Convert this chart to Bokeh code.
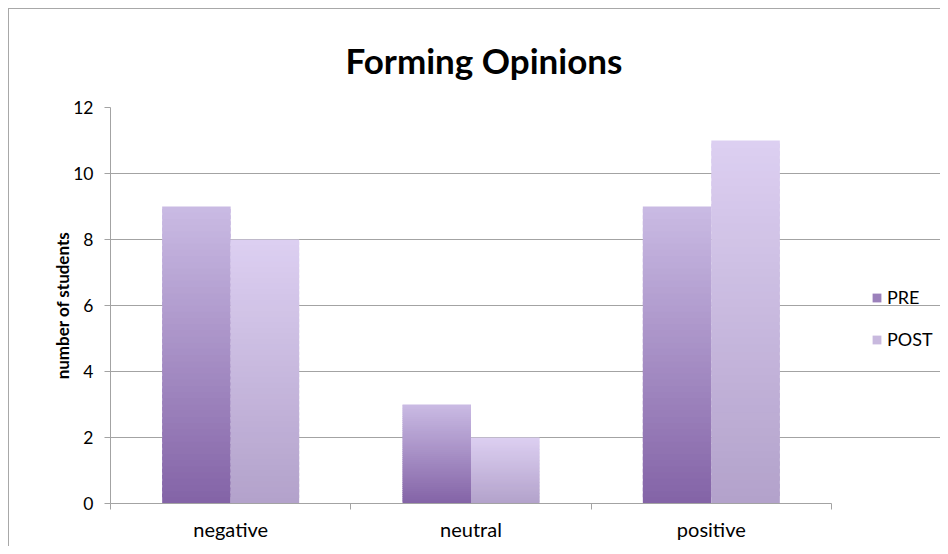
from bokeh.plotting import figure
from bokeh.models import (Range1d, LinearAxis, FixedTicker,
                          Legend, LegendItem, ColumnDataSource)
from bokeh.transform import dodge
from bokeh.embed import file_html
from bokeh.resources import INLINE

# ---- data ----
categories = ["negative", "neutral", "positive"]
series = ["PRE", "POST"]
pre_values = [9, 3, 9]
post_values = [8, 2, 11]
y_ticks = [0, 2, 4, 6, 8, 10, 12]

# ---- styles / layout ----
FONT = "Lato"
GRID = "#a3a3a3"
pre_bottom, pre_top = "#8464a7", "#c9bae3"
post_bottom, post_top = "#b3a2cb", "#dccff1"
BAR_W = 0.285
N_SLICES = 48
FIG_W, FIG_H = 932, 538
BORDER_L = 101
PLOT_AREA_PX = 721  # width of the category area in pixels

n_cat = len(categories)
cat_centers = [i + 0.5 for i in range(n_cat)]
cat_bounds = list(range(n_cat + 1))
frame_px = FIG_W - BORDER_L
x_end = n_cat * frame_px / PLOT_AREA_PX  # frame extends right to hold the legend


def hex2rgb(h):
    h = h.lstrip("#")
    return tuple(int(h[i:i + 2], 16) for i in (0, 2, 4))


def lerp(c1, c2, t):
    a, b = hex2rgb(c1), hex2rgb(c2)
    return "#%02x%02x%02x" % tuple(int(round(a[k] + (b[k] - a[k]) * t)) for k in range(3))


p = figure(width=FIG_W, height=FIG_H,
           x_range=Range1d(0, x_end), y_range=Range1d(0, 12),
           output_backend="svg", toolbar_location=None,
           x_axis_location=None,
           min_border_left=BORDER_L, min_border_right=0,
           min_border_top=98, min_border_bottom=44)
p.styles = {"margin-top": "8px", "margin-left": "8px",
            "border-top": "1px solid #a8a8a8", "border-left": "1px solid #a8a8a8"}
p.outline_line_color = None
p.background_fill_color = "white"
p.border_fill_color = "white"

# title
p.title.text = "Forming Opinions"
p.title.text_font = FONT
p.title.text_font_size = "35px"
p.title.text_font_style = "bold"
p.title.text_color = "black"
p.title.align = "left"
p.title.offset = 235
p.title.standoff = 53

# gradient bars (drawn as stacked slices of each bar)
bar_renderers = []
for vals, c_bot, c_top, off in [(pre_values, pre_bottom, pre_top, -BAR_W / 2),
                                (post_values, post_bottom, post_top, BAR_W / 2)]:
    xs, bottoms, tops, colors = [], [], [], []
    for cx, v in zip(cat_centers, vals):
        for i in range(N_SLICES):
            t = i / (N_SLICES - 1)
            xs.append(cx)
            bottoms.append(v * i / N_SLICES)
            tops.append(min(v, v * (i + 1.6) / N_SLICES))
            colors.append(lerp(c_bot, c_top, t))
    src = ColumnDataSource(dict(x=xs, bottom=bottoms, top=tops, color=colors))
    r = p.vbar(x=dodge("x", off), bottom="bottom", top="top",
               width=BAR_W, fill_color="color", line_color=None, source=src)
    bar_renderers.append(r)

legend = Legend(items=[LegendItem(label=series[0], renderers=[bar_renderers[0]], index=N_SLICES // 3),
                       LegendItem(label=series[1], renderers=[bar_renderers[1]], index=N_SLICES // 2)],
                location=(761, 153), glyph_width=11, glyph_height=11,
                label_standoff=5, spacing=20, label_height=20,
                padding=0, margin=0, border_line_color=None,
                background_fill_alpha=0,
                label_text_font=FONT, label_text_font_size="18px",
                label_text_color="black")
p.add_layout(legend)

# y axis
p.yaxis.ticker = FixedTicker(ticks=y_ticks)
p.yaxis.axis_line_color = GRID
p.yaxis.major_tick_line_color = GRID
p.yaxis.major_tick_out = 6
p.yaxis.major_tick_in = 0
p.yaxis.minor_tick_line_color = None
p.yaxis.major_label_text_font = FONT
p.yaxis.major_label_text_font_size = "17.5px"
p.yaxis.major_label_text_color = "black"
p.yaxis.major_label_standoff = 11
p.yaxis.axis_label = "number of students"
p.yaxis.axis_label_text_font = FONT
p.yaxis.axis_label_text_font_size = "17px"
p.yaxis.axis_label_text_font_style = "bold"
p.yaxis.axis_label_text_color = "black"
p.yaxis.axis_label_standoff = -3

p.ygrid.ticker = FixedTicker(ticks=y_ticks)
p.ygrid.grid_line_color = GRID
p.ygrid.bounds = (0, n_cat)
p.xgrid.grid_line_color = None

# x axis: boundary ticks + category labels at centers
bound_axis = LinearAxis(ticker=FixedTicker(ticks=cat_bounds), bounds=(0, n_cat),
                        major_label_overrides={b: "" for b in cat_bounds},
                        major_label_text_font_size="1px", major_label_standoff=0,
                        axis_line_color=GRID, major_tick_line_color=GRID,
                        major_tick_out=6, major_tick_in=0,
                        minor_tick_line_color=None)
p.add_layout(bound_axis, "below")

cat_axis = LinearAxis(ticker=FixedTicker(ticks=cat_centers),
                      major_label_overrides={c: lab for c, lab in zip(cat_centers, categories)},
                      axis_line_color=None, major_tick_line_color=None,
                      minor_tick_line_color=None,
                      major_label_text_font=FONT, major_label_text_font_size="20px",
                      major_label_text_color="black", major_label_standoff=1)
p.add_layout(cat_axis, "below")

open("out.html", "w").write(file_html(p, INLINE))
